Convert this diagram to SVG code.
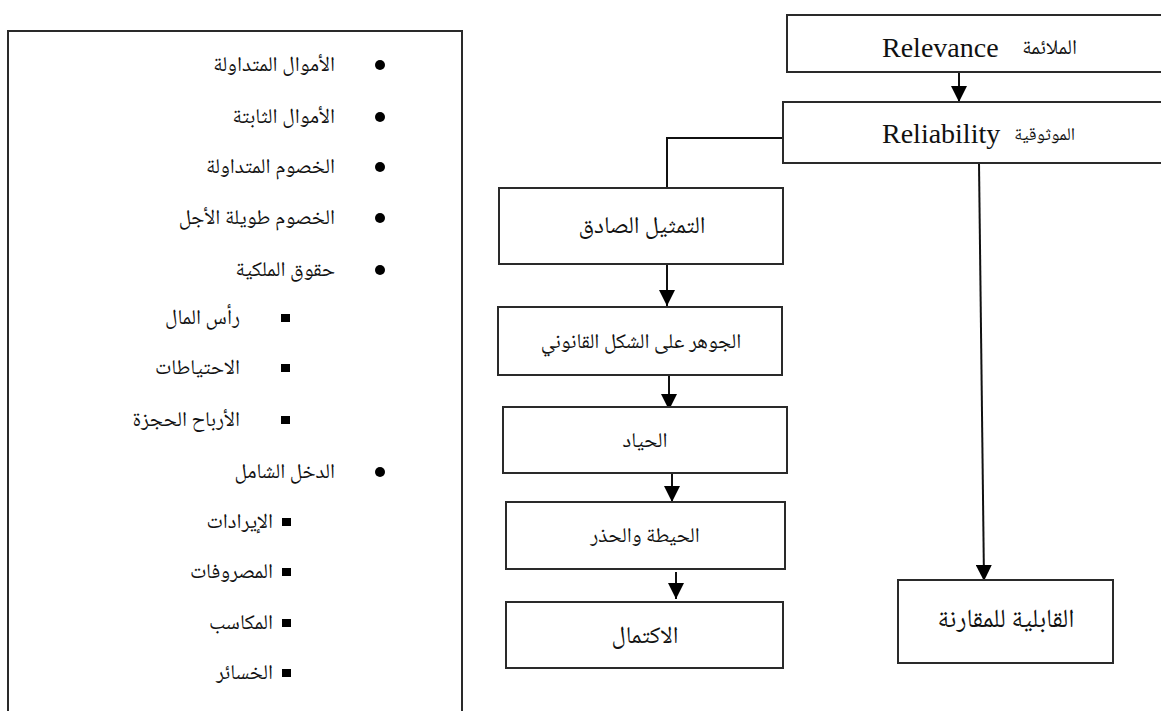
<svg xmlns="http://www.w3.org/2000/svg" width="1161" height="711" viewBox="0 0 1161 711">
<style>
.box{fill:#fff;stroke:#2a2a2a;stroke-width:2}
.ar{font-family:"Noto Naskh Arabic","Amiri","Noto Sans Arabic","DejaVu Sans",serif;fill:#111}
.en{font-family:"Liberation Serif","Times New Roman",serif;fill:#111}
.li{font-size:21px;text-anchor:end}
.bt{text-anchor:middle}
.conn{fill:none;stroke:#111;stroke-width:2}
</style>
<defs>
<marker id="ah" markerUnits="userSpaceOnUse" markerWidth="16" markerHeight="16" refX="16" refY="8" orient="auto">
<path d="M0,0 L16,8 L0,16 Z" fill="#000"/>
</marker>
</defs>
<rect width="1161" height="711" fill="#fff"/>

<g id="list">
<rect class="box" x="8" y="31" width="454" height="700"/>
<g fill="#000">
<circle cx="380" cy="65" r="5"/>
<circle cx="380" cy="117" r="5"/>
<circle cx="380" cy="167" r="5"/>
<circle cx="380" cy="218" r="5"/>
<circle cx="380" cy="270" r="5"/>
<rect x="281" y="314" width="9" height="8"/>
<rect x="281" y="364" width="9" height="8"/>
<rect x="281" y="416" width="9" height="8"/>
<circle cx="380" cy="472" r="5"/>
<rect x="282" y="518" width="9" height="8"/>
<rect x="282" y="568" width="9" height="8"/>
<rect x="282" y="619" width="9" height="8"/>
<rect x="282" y="669" width="9" height="8"/>
</g>
<text class="ar li" x="335" y="71">الأموال المتداولة</text>
<text class="ar li" x="335" y="123">الأموال الثابتة</text>
<text class="ar li" x="335" y="173">الخصوم المتداولة</text>
<text class="ar li" x="335" y="224">الخصوم طويلة الأجل</text>
<text class="ar li" x="335" y="276">حقوق الملكية</text>
<text class="ar li" x="240" y="324">رأس المال</text>
<text class="ar li" x="240" y="374">الاحتياطات</text>
<text class="ar li" x="240" y="426">الأرباح الحجزة</text>
<text class="ar li" x="335" y="478">الدخل الشامل</text>
<text class="ar li" x="273" y="528">الإيرادات</text>
<text class="ar li" x="273" y="578">المصروفات</text>
<text class="ar li" x="273" y="629">المكاسب</text>
<text class="ar li" x="273" y="679">الخسائر</text>
</g>

<g id="connectors">
<line class="conn" x1="959" y1="72" x2="959" y2="102" marker-end="url(#ah)"/>
<polyline class="conn" points="783,138 667,138 667,188"/>
<line class="conn" x1="667" y1="264" x2="667" y2="306" marker-end="url(#ah)"/>
<line class="conn" x1="669" y1="375" x2="669" y2="410" marker-end="url(#ah)"/>
<line class="conn" x1="672" y1="473" x2="672" y2="502" marker-end="url(#ah)"/>
<line class="conn" x1="676" y1="572" x2="676" y2="599" marker-end="url(#ah)"/>
<line class="conn" x1="979" y1="163" x2="984" y2="581" marker-end="url(#ah)"/>
</g>

<g id="relevance">
<rect class="box" x="787" y="15" width="390" height="57"/>
<text class="en" x="882" y="57" font-size="28">Relevance</text>
<text class="ar" x="1077" y="54" font-size="21" text-anchor="end">الملائمة</text>
</g>
<g id="reliability">
<rect class="box" x="783" y="102" width="394" height="61"/>
<text class="en" x="882" y="143" font-size="28">Reliability</text>
<text class="ar" x="1075" y="140" font-size="18" text-anchor="end">الموثوقية</text>
</g>
<g id="faithful">
<rect class="box" x="499" y="188" width="284" height="76"/>
<text class="ar bt" x="642" y="233" font-size="24">التمثيل الصادق</text>
</g>
<g id="substance">
<rect class="box" x="498" y="307" width="284" height="68"/>
<text class="ar bt" x="641" y="348" font-size="21">الجوهر على الشكل القانوني</text>
</g>
<g id="neutrality">
<rect class="box" x="503" y="407" width="284" height="66"/>
<text class="ar bt" x="645" y="447" font-size="21">الحياد</text>
</g>
<g id="prudence">
<rect class="box" x="506" y="502" width="279" height="67"/>
<text class="ar bt" x="645" y="542" font-size="21">الحيطة والحذر</text>
</g>
<g id="completeness">
<rect class="box" x="506" y="602" width="277" height="66"/>
<text class="ar bt" x="645" y="643" font-size="24">الاكتمال</text>
</g>
<g id="comparability">
<rect class="box" x="898" y="580" width="215" height="83"/>
<text class="ar bt" x="1006" y="627" font-size="26">القابلية للمقارنة</text>
</g>
</svg>
